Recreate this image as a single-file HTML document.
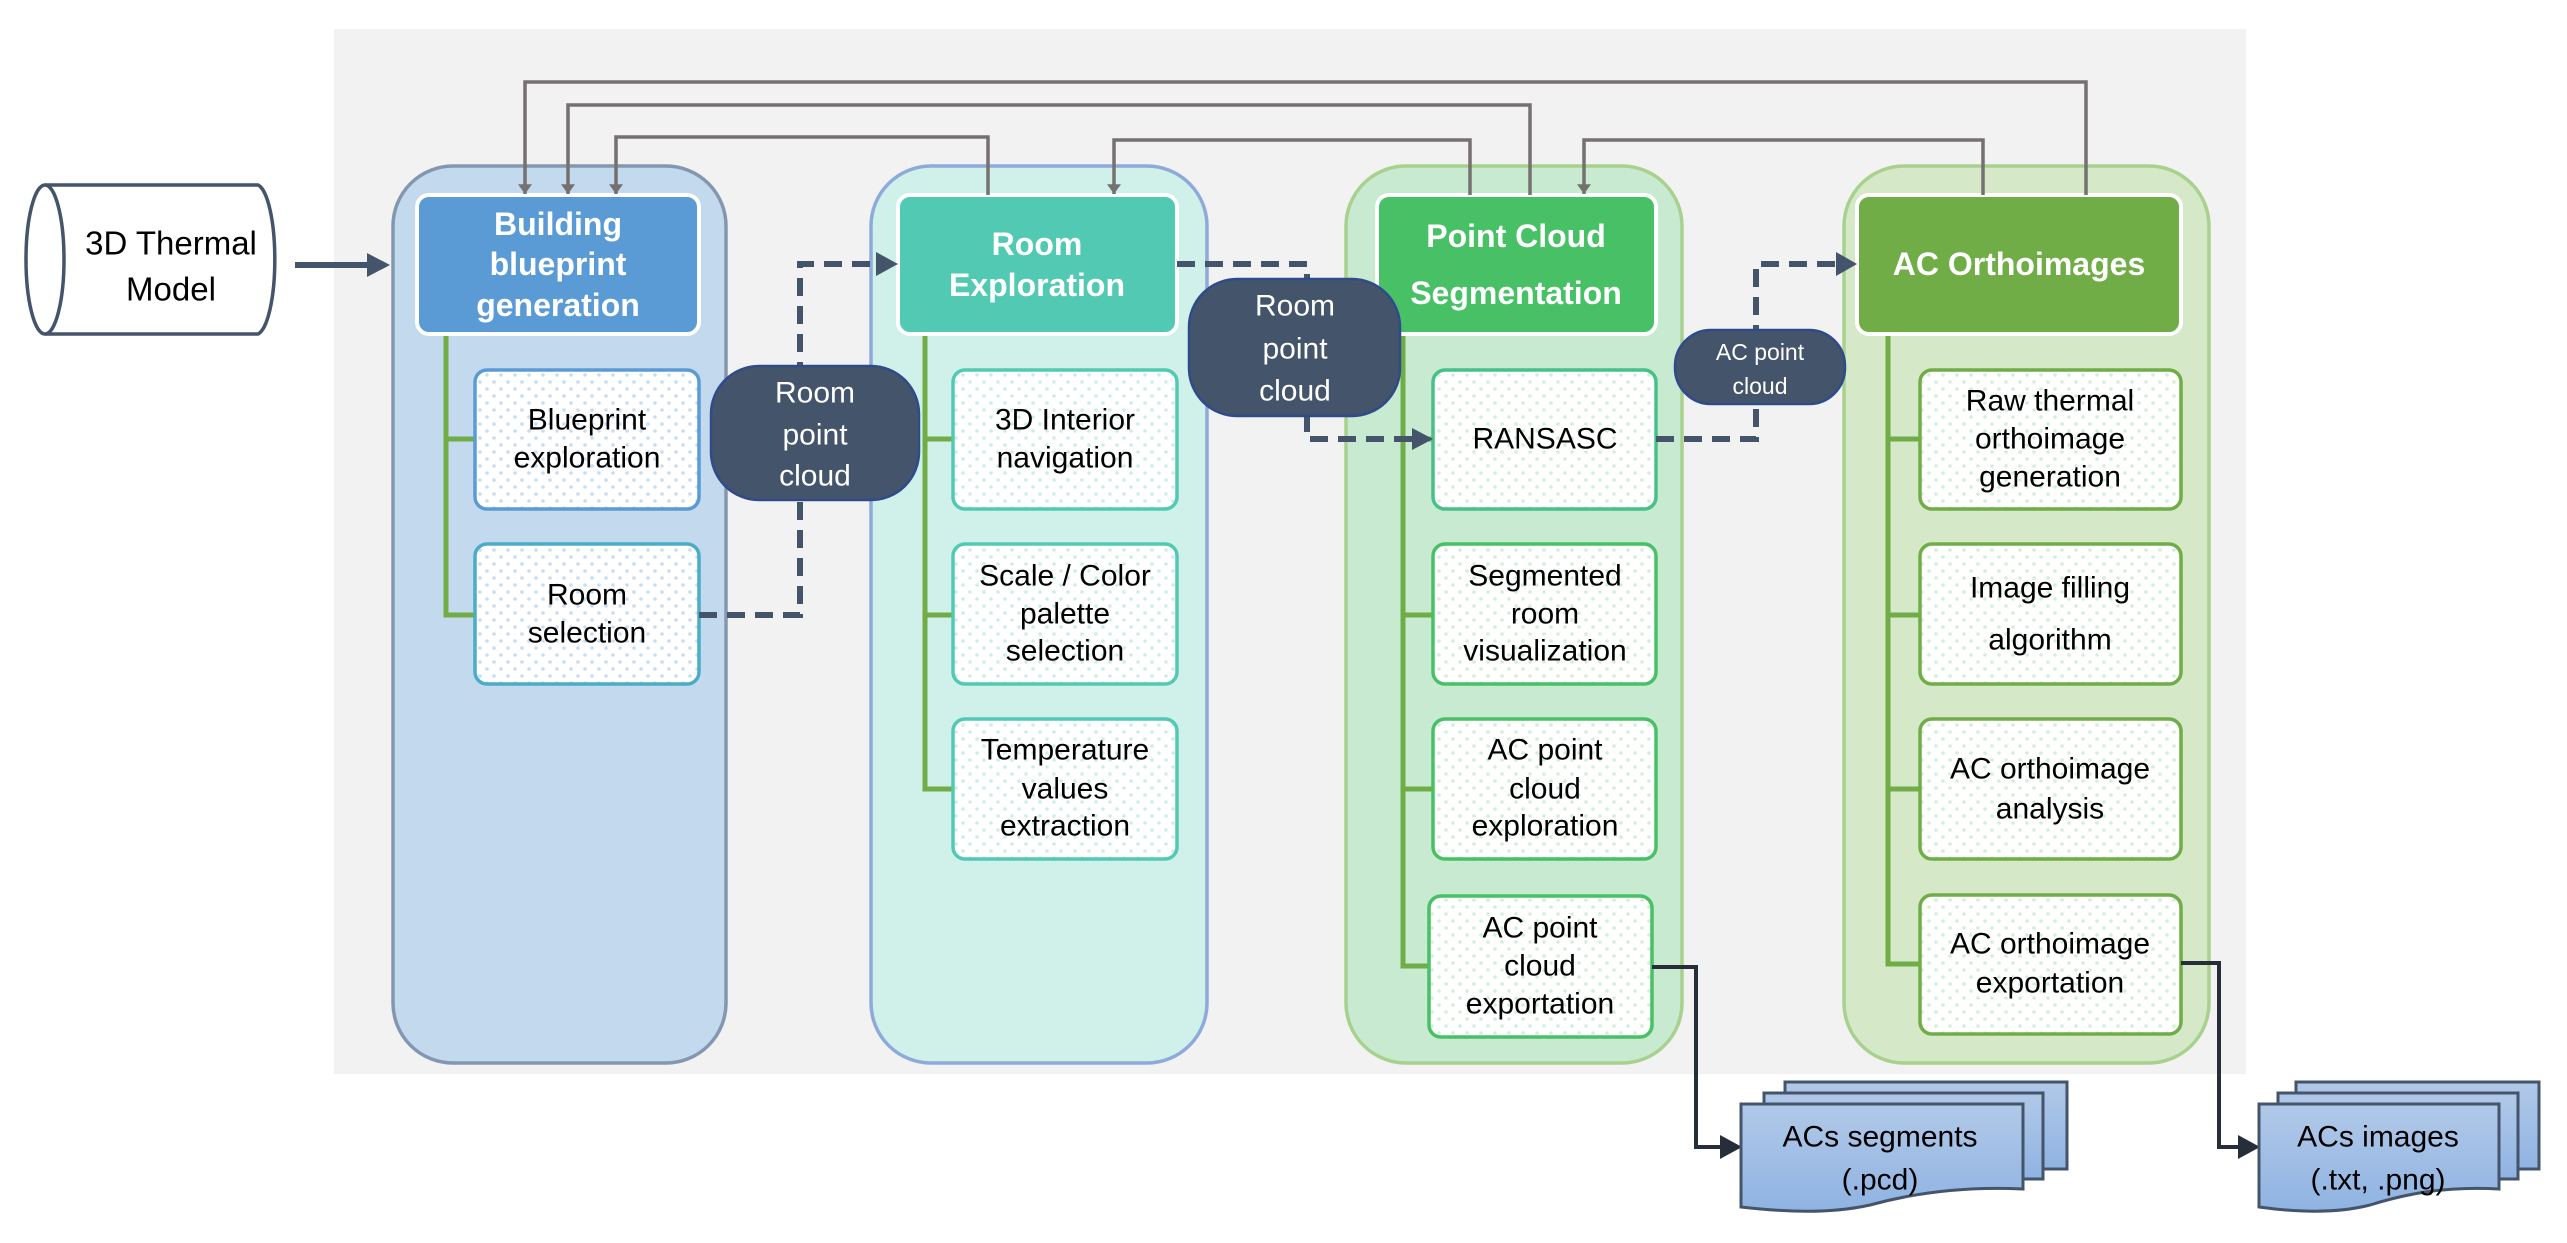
<!DOCTYPE html>
<html><head><meta charset="utf-8"><style>
html,body{margin:0;padding:0;background:#fff;}
svg{display:block;}
text{font-family:"Liberation Sans",sans-serif;}
</style></head><body>
<svg width="2567" height="1243" viewBox="0 0 2567 1243" xmlns="http://www.w3.org/2000/svg">
<defs>
<pattern id="dB" width="14" height="14" patternUnits="userSpaceOnUse"><rect width="14" height="14" fill="#fff"/><circle cx="4" cy="4" r="1.8" fill="#c9ddf2"/><circle cx="11" cy="11" r="1.8" fill="#c9ddf2"/></pattern>
<pattern id="dT" width="14" height="14" patternUnits="userSpaceOnUse"><rect width="14" height="14" fill="#fff"/><circle cx="4" cy="4" r="1.8" fill="#cdeee8"/><circle cx="11" cy="11" r="1.8" fill="#cdeee8"/></pattern>
<pattern id="dG" width="14" height="14" patternUnits="userSpaceOnUse"><rect width="14" height="14" fill="#fff"/><circle cx="4" cy="4" r="1.8" fill="#d3eed9"/><circle cx="11" cy="11" r="1.8" fill="#d3eed9"/></pattern>
<linearGradient id="doc" x1="0" y1="0" x2="0" y2="1"><stop offset="0" stop-color="#b1c9e8"/><stop offset="1" stop-color="#8fb3e2"/></linearGradient>
<marker id="ag" markerWidth="20" markerHeight="14" refX="14" refY="10" orient="auto" markerUnits="userSpaceOnUse" viewBox="0 0 14 20"><path d="M0,0 L14,10 L0,20 z" fill="#767171"/></marker>
</defs>

<rect x="334" y="29" width="1912" height="1045" fill="#f2f2f2"/>

<!-- cylinder -->
<path d="M45,185 H258 A19,75 0 0 1 258,334 H45" fill="#fff" stroke="#44546a" stroke-width="3.5"/>
<ellipse cx="45" cy="259.5" rx="19" ry="74.5" fill="#fff" stroke="#44546a" stroke-width="3.5"/>
<text x="171" y="243" font-size="33" text-anchor="middle" dominant-baseline="central">3D Thermal</text>
<text x="171" y="289" font-size="33" text-anchor="middle" dominant-baseline="central">Model</text>
<line x1="295" y1="265" x2="368" y2="265" stroke="#44546a" stroke-width="6"/>
<path d="M367,253 L390,265 L367,277 z" fill="#44546a"/>

<!-- panels -->
<rect x="393" y="166" width="333" height="897" rx="60" fill="#c3d9ee" stroke="#8497b0" stroke-width="3.5"/>
<rect x="871" y="166" width="336" height="897" rx="60" fill="#d0f0ea" stroke="#8eaadb" stroke-width="3.5"/>
<rect x="1346" y="166" width="336" height="897" rx="60" fill="#c7ead0" stroke="#a9d18e" stroke-width="3.5"/>
<rect x="1844" y="166" width="365" height="897" rx="60" fill="#d5e8c8" stroke="#a9d18e" stroke-width="3.5"/>

<!-- trees -->
<g stroke="#70ad47" stroke-width="5" fill="none">
<path d="M446,334 V615 H475 M446,439 H475"/>
<path d="M925,334 V789 H953 M925,439 H953 M925,615 H953"/>
<path d="M1403,334 V966 H1430 M1403,439 H1433 M1403,615 H1433 M1403,789 H1433"/>
<path d="M1888,334 V964 H1920 M1888,439 H1920 M1888,615 H1920 M1888,789 H1920"/>
</g>

<!-- headers -->
<rect x="417" y="195" width="282" height="139" rx="12" fill="#5b9bd5" stroke="#fff" stroke-width="4"/>
<rect x="898" y="195" width="279" height="139" rx="12" fill="#52c9b3" stroke="#fff" stroke-width="4"/>
<rect x="1377" y="195" width="279" height="139" rx="12" fill="#47c066" stroke="#fff" stroke-width="4"/>
<rect x="1857" y="195" width="324" height="139" rx="12" fill="#70ad47" stroke="#fff" stroke-width="4"/>
<g font-size="32" font-weight="bold" fill="#fff" text-anchor="middle" dominant-baseline="central">
<text x="558" y="224">Building</text><text x="558" y="264">blueprint</text><text x="558" y="305">generation</text>
<text x="1037" y="244">Room</text><text x="1037" y="285">Exploration</text>
<text x="1516" y="236">Point Cloud</text><text x="1516" y="293">Segmentation</text>
<text x="2019" y="264">AC Orthoimages</text>
</g>

<!-- sub boxes -->
<g stroke-width="3.5">
<rect x="475" y="370" width="224" height="139" rx="12" fill="url(#dB)" stroke="#5b9bd5"/>
<rect x="475" y="544" width="224" height="140" rx="12" fill="url(#dB)" stroke="#4bacc6"/>
<rect x="953" y="370" width="224" height="139" rx="12" fill="url(#dT)" stroke="#52c9b3"/>
<rect x="953" y="544" width="224" height="140" rx="12" fill="url(#dT)" stroke="#52c9b3"/>
<rect x="953" y="719" width="224" height="140" rx="12" fill="url(#dT)" stroke="#52c9b3"/>
<rect x="1433" y="370" width="223" height="139" rx="12" fill="url(#dG)" stroke="#47c08a"/>
<rect x="1433" y="544" width="223" height="140" rx="12" fill="url(#dG)" stroke="#47c066"/>
<rect x="1433" y="719" width="223" height="140" rx="12" fill="url(#dG)" stroke="#47c066"/>
<rect x="1429" y="896" width="223" height="141" rx="12" fill="url(#dG)" stroke="#47c066"/>
<rect x="1920" y="370" width="261" height="139" rx="12" fill="url(#dG)" stroke="#70ad47"/>
<rect x="1920" y="544" width="261" height="140" rx="12" fill="url(#dG)" stroke="#70ad47"/>
<rect x="1920" y="719" width="261" height="140" rx="12" fill="url(#dG)" stroke="#70ad47"/>
<rect x="1920" y="895" width="261" height="139" rx="12" fill="url(#dG)" stroke="#70ad47"/>
</g>
<g font-size="30" fill="#000" text-anchor="middle" dominant-baseline="central">
<text x="587" y="420">Blueprint</text><text x="587" y="458">exploration</text>
<text x="587" y="595">Room</text><text x="587" y="633">selection</text>
<text x="1065" y="420">3D Interior</text><text x="1065" y="458">navigation</text>
<text x="1065" y="576">Scale / Color</text><text x="1065" y="614">palette</text><text x="1065" y="651">selection</text>
<text x="1065" y="750">Temperature</text><text x="1065" y="789">values</text><text x="1065" y="826">extraction</text>
<text x="1545" y="439">RANSASC</text>
<text x="1545" y="576">Segmented</text><text x="1545" y="614">room</text><text x="1545" y="651">visualization</text>
<text x="1545" y="750">AC point</text><text x="1545" y="789">cloud</text><text x="1545" y="826">exploration</text>
<text x="1540" y="928">AC point</text><text x="1540" y="966">cloud</text><text x="1540" y="1004">exportation</text>
<text x="2050" y="401">Raw thermal</text><text x="2050" y="439">orthoimage</text><text x="2050" y="477">generation</text>
<text x="2050" y="588">Image filling</text><text x="2050" y="640">algorithm</text>
<text x="2050" y="769">AC orthoimage</text><text x="2050" y="809">analysis</text>
<text x="2050" y="944">AC orthoimage</text><text x="2050" y="983">exportation</text>
</g>

<!-- dashed connectors -->
<g stroke="#44546a" stroke-width="6" stroke-dasharray="18,10" fill="none">
<path d="M699,615 H800 V264 H878"/>
<path d="M1177,264 H1307 V439 H1412"/>
<path d="M1656,439 H1756 V264 H1836"/>
</g>
<path d="M876,252 L898,264 L876,276 z" fill="#44546a"/>
<path d="M1412,428 L1433,439 L1412,450 z" fill="#44546a"/>
<path d="M1836,252 L1857,264 L1836,276 z" fill="#44546a"/>

<!-- data labels -->
<rect x="711" y="366" width="208" height="134" rx="48" fill="#44546a" stroke="#2f4b8a" stroke-width="2.5"/>
<g font-size="30" fill="#fff" text-anchor="middle" dominant-baseline="central">
<text x="815" y="393">Room</text><text x="815" y="435">point</text><text x="815" y="476">cloud</text>
</g>
<rect x="1189" y="279" width="211" height="137" rx="48" fill="#44546a" stroke="#2f4b8a" stroke-width="2.5"/>
<g font-size="30" fill="#fff" text-anchor="middle" dominant-baseline="central">
<text x="1295" y="306">Room</text><text x="1295" y="349">point</text><text x="1295" y="391">cloud</text>
</g>
<rect x="1675" y="330" width="170" height="74" rx="36" fill="#44546a" stroke="#2f4b8a" stroke-width="2.5"/>
<g font-size="23" fill="#fff" text-anchor="middle" dominant-baseline="central">
<text x="1760" y="352">AC point</text><text x="1760" y="386">cloud</text>
</g>

<!-- feedback lines -->
<g stroke="#767171" stroke-width="3.5" fill="none">
<path d="M2086,195 V82 H525 V194" marker-end="url(#ag)"/>
<path d="M1530,195 V105 H568 V194" marker-end="url(#ag)"/>
<path d="M988,195 V137 H616 V194" marker-end="url(#ag)"/>
<path d="M1470,195 V140 H1114 V194" marker-end="url(#ag)"/>
<path d="M1983,195 V140 H1584 V194" marker-end="url(#ag)"/>
</g>

<!-- output connectors -->
<g stroke="#262e3a" stroke-width="4" fill="none">
<path d="M1652,967 H1696 V1147 H1722"/>
<path d="M2181,963 H2219 V1147 H2240"/>
</g>
<path d="M1720,1135 L1742,1147 L1720,1159 z" fill="#262e3a"/>
<path d="M2238,1135 L2260,1147 L2238,1159 z" fill="#262e3a"/>

<!-- documents -->
<g stroke="#44546a" stroke-width="3" fill="url(#doc)">
<rect x="1785" y="1082" width="282" height="87"/>
<rect x="1764" y="1093" width="279" height="86"/>
<path d="M1741,1104 H2023 V1189 C1960,1186 1910,1194 1870,1205 C1830,1214 1785,1212 1741,1207 Z"/>
<rect x="2296" y="1082" width="243" height="87"/>
<rect x="2278" y="1093" width="240" height="86"/>
<path d="M2259,1104 H2499 V1189 C2445,1186 2405,1194 2370,1205 C2335,1214 2295,1212 2259,1207 Z"/>
</g>
<g font-size="30" fill="#000" text-anchor="middle" dominant-baseline="central">
<text x="1880" y="1137">ACs segments</text><text x="1880" y="1180">(.pcd)</text>
<text x="2378" y="1137">ACs images</text><text x="2378" y="1180">(.txt, .png)</text>
</g>
</svg>
</body></html>
